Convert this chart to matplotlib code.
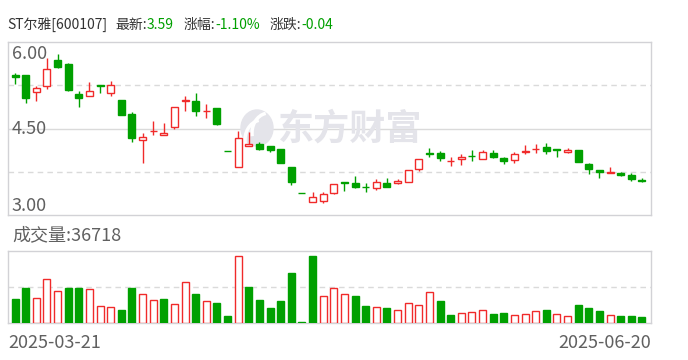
import numpy as np
import matplotlib
matplotlib.use("Agg")
import matplotlib.pyplot as plt
from matplotlib.patches import Ellipse, Arc

plt.rcParams['font.family'] = ['Noto Sans CJK SC', 'DejaVu Sans']

# daily candles, 2025-03-21 .. 2025-06-20
opens = [5.43, 5.43, 5.14, 5.23, 5.69, 5.62, 5.10, 5.06, 5.25, 5.12,
         4.99, 4.75, 4.30, 4.45, 4.38, 4.53, 4.97, 4.98, 4.80, 4.86,
         4.11, 3.84, 4.19, 4.23, 4.19, 4.15, 3.83, 3.38, 3.22, 3.25,
         3.39, 3.57, 3.55, 3.49, 3.46, 3.55, 3.56, 3.58, 3.79, 4.07,
         4.07, 3.93, 3.97, 4.03, 3.97, 4.08, 3.99, 3.95, 4.10, 4.14,
         4.18, 4.14, 4.10, 4.13, 3.88, 3.78, 3.73, 3.73, 3.69, 3.60]
closes = [5.39, 5.03, 5.21, 5.54, 5.57, 5.17, 5.03, 5.15, 5.24, 5.25,
          4.74, 4.34, 4.35, 4.46, 4.42, 4.87, 4.99, 4.80, 4.81, 4.58,
          4.11, 4.33, 4.23, 4.15, 4.13, 3.91, 3.58, 3.38, 3.32, 3.36,
          3.53, 3.56, 3.49, 3.48, 3.57, 3.49, 3.59, 3.78, 3.97, 4.06,
          3.98, 3.94, 4.00, 4.02, 4.09, 4.01, 3.94, 4.05, 4.11, 4.15,
          4.11, 4.12, 4.13, 3.92, 3.79, 3.74, 3.75, 3.70, 3.63, 3.59]
highs = [5.47, 5.43, 5.24, 5.72, 5.79, 5.64, 5.15, 5.31, 5.26, 5.32,
         4.99, 4.79, 4.42, 4.63, 4.60, 4.87, 5.06, 5.12, 4.92, 4.86,
         4.11, 4.46, 4.44, 4.27, 4.19, 4.15, 3.83, 3.38, 3.40, 3.40,
         3.53, 3.57, 3.68, 3.56, 3.62, 3.64, 3.62, 3.78, 3.97, 4.16,
         4.11, 4.01, 4.06, 4.13, 4.12, 4.12, 4.01, 4.09, 4.21, 4.23,
         4.25, 4.14, 4.16, 4.13, 3.90, 3.78, 3.83, 3.75, 3.73, 3.64]
lows = [5.27, 4.94, 4.97, 5.19, 5.55, 5.15, 4.88, 5.06, 5.12, 5.07,
        4.74, 4.27, 3.91, 4.39, 4.38, 4.50, 4.81, 4.72, 4.69, 4.56,
        4.11, 3.84, 4.19, 4.13, 4.09, 3.91, 3.52, 3.38, 3.22, 3.21,
        3.36, 3.42, 3.46, 3.40, 3.43, 3.49, 3.53, 3.58, 3.77, 4.00,
        3.94, 3.85, 3.87, 3.94, 3.97, 3.98, 3.89, 3.91, 4.06, 4.08,
        4.06, 4.01, 4.08, 3.92, 3.71, 3.65, 3.73, 3.67, 3.59, 3.57]
volumes = [153000, 227000, 164000, 287000, 209000, 227000, 227000, 222000, 112000, 106000,
           82000, 225000, 186000, 151000, 153000, 125000, 263000, 186000, 140000, 127000,
           43000, 432000, 231000, 147000, 95000, 140000, 322000, 6500, 432000, 177000,
           225000, 186000, 173000, 108000, 106000, 95000, 86000, 132000, 119000, 203000,
           140000, 50000, 67000, 73000, 86000, 56000, 63000, 54000, 60000, 80000,
           82000, 60000, 47000, 114000, 95000, 78000, 54000, 43000, 43000, 36718]

stock_name = "ST尔雅[600107]"
date_labels = ["2025-03-21", "2025-06-20"]
price_ticks = [6.00, 4.50, 3.00]

RED = '#f02a2a'
GREEN = '#00a000'
GRID = '#dadada'
FRAME = '#d2d2d6'
TXT = '#333333'
AXTXT = '#606060'

o = np.array(opens)
c = np.array(closes)
h = np.array(highs)
l = np.array(lows)
v = np.array(volumes)
x = np.arange(len(c))
prev = np.r_[o[0], c[:-1]]

up = (c > o) | ((c == o) & (c >= prev))
vol_up = c > prev
vol_up[0] = c[0] > o[0]

W, H = 688, 360
fig = plt.figure(figsize=(W / 100, H / 100), dpi=100)

ax = fig.add_axes([8 / W, 145 / H, 643 / W, 173 / H])
axv = fig.add_axes([8 / W, 37 / H, 643 / W, 72 / H])

for a in (ax, axv):
    a.set_xlim(-0.66, len(c) - 0.15)
    a.set_xticks([])
    a.set_yticks([])
    for s in a.spines.values():
        s.set_color(FRAME)
        s.set_linewidth(1)

# price panel
ax.set_ylim(price_ticks[-1], price_ticks[0])
ax.axhline(price_ticks[1], color=GRID, lw=1, zorder=0)
for g in [(price_ticks[0] + price_ticks[1]) / 2, (price_ticks[1] + price_ticks[2]) / 2]:
    ax.axhline(g, color=GRID, lw=1, ls=(0, (4, 3)), zorder=0)

# watermark
ax.text(350 / W, 1 - 129 / H, "东方财富", transform=fig.transFigure, fontsize=26,
        fontweight='bold', color='#e4e4ea', ha='center', va='center', zorder=1)
ax.add_patch(Ellipse((257 / W, 1 - 128 / H), 32 / W, 36 / H, transform=fig.transFigure,
                     color='#e4e4ea', zorder=1))
for r in (0.0, 7.0):
    ax.add_patch(Arc(((262 + r) / W, 1 - (140 - r) / H), 34 / W, 40 / H, theta1=95, theta2=200,
                     transform=fig.transFigure, color='white', lw=2.5, zorder=1))

col = np.where(up, RED, GREEN)
ax.vlines(x, l, h, colors=col, lw=1, zorder=2)
bot = np.minimum(o, c)
hgt = np.maximum(np.abs(c - o), 0.004)
ax.bar(x[up], hgt[up], bottom=bot[up], width=0.66, facecolor='white',
       edgecolor=RED, lw=1, zorder=3)
ax.bar(x[~up], hgt[~up], bottom=bot[~up], width=0.66, facecolor=GREEN,
       edgecolor=GREEN, lw=1, zorder=3)

tr = ax.get_yaxis_transform()
for t, va, dy in zip(price_ticks, ['top', 'center', 'bottom'], [-0.06, 0, 0.0]):
    ax.text(0.006, t + dy, f"{t:.2f}", transform=tr, va=va, ha='left',
            fontsize=13, color=AXTXT, zorder=4)

# volume panel
vmax = v.max() * 1.08
axv.set_ylim(0, vmax)
axv.axhline(vmax / 2, color=GRID, lw=1, ls=(0, (4, 3)), zorder=0)
axv.bar(x[vol_up], v[vol_up], width=0.66, facecolor='white', edgecolor=RED, lw=1, zorder=3)
axv.bar(x[~vol_up], v[~vol_up], width=0.66, facecolor=GREEN, edgecolor=GREEN, lw=1, zorder=3)

# header, laid out piece by piece
chg = c[-1] - c[-2]
pct = chg / c[-2] * 100
parts = [(stock_name, TXT, 8), ("最新:", TXT, 0), (f"{c[-1]:.2f}", GREEN, 10),
         ("涨幅:", TXT, 0), (f"{pct:.2f}%", GREEN, 10),
         ("涨跌:", TXT, 0), (f"{chg:.2f}", GREEN, 0)]
renderer = fig.canvas.get_renderer()
px = 7
for s, cl, gap in parts:
    t = fig.text(px / W, 1 - 29 / H, s, fontsize=10, color=cl, va='baseline', ha='left')
    px += t.get_window_extent(renderer).width + gap

fig.text(12 / W, 1 - 240 / H, f"成交量:{volumes[-1]}", fontsize=13, color=AXTXT,
         va='baseline', ha='left')
fig.text(8 / W, 1 - 348 / H, date_labels[0], fontsize=13, color=AXTXT, va='baseline', ha='left')
fig.text(651 / W, 1 - 348 / H, date_labels[1], fontsize=13, color=AXTXT, va='baseline', ha='right')

fig.savefig("out.png", dpi=100, facecolor='white')
